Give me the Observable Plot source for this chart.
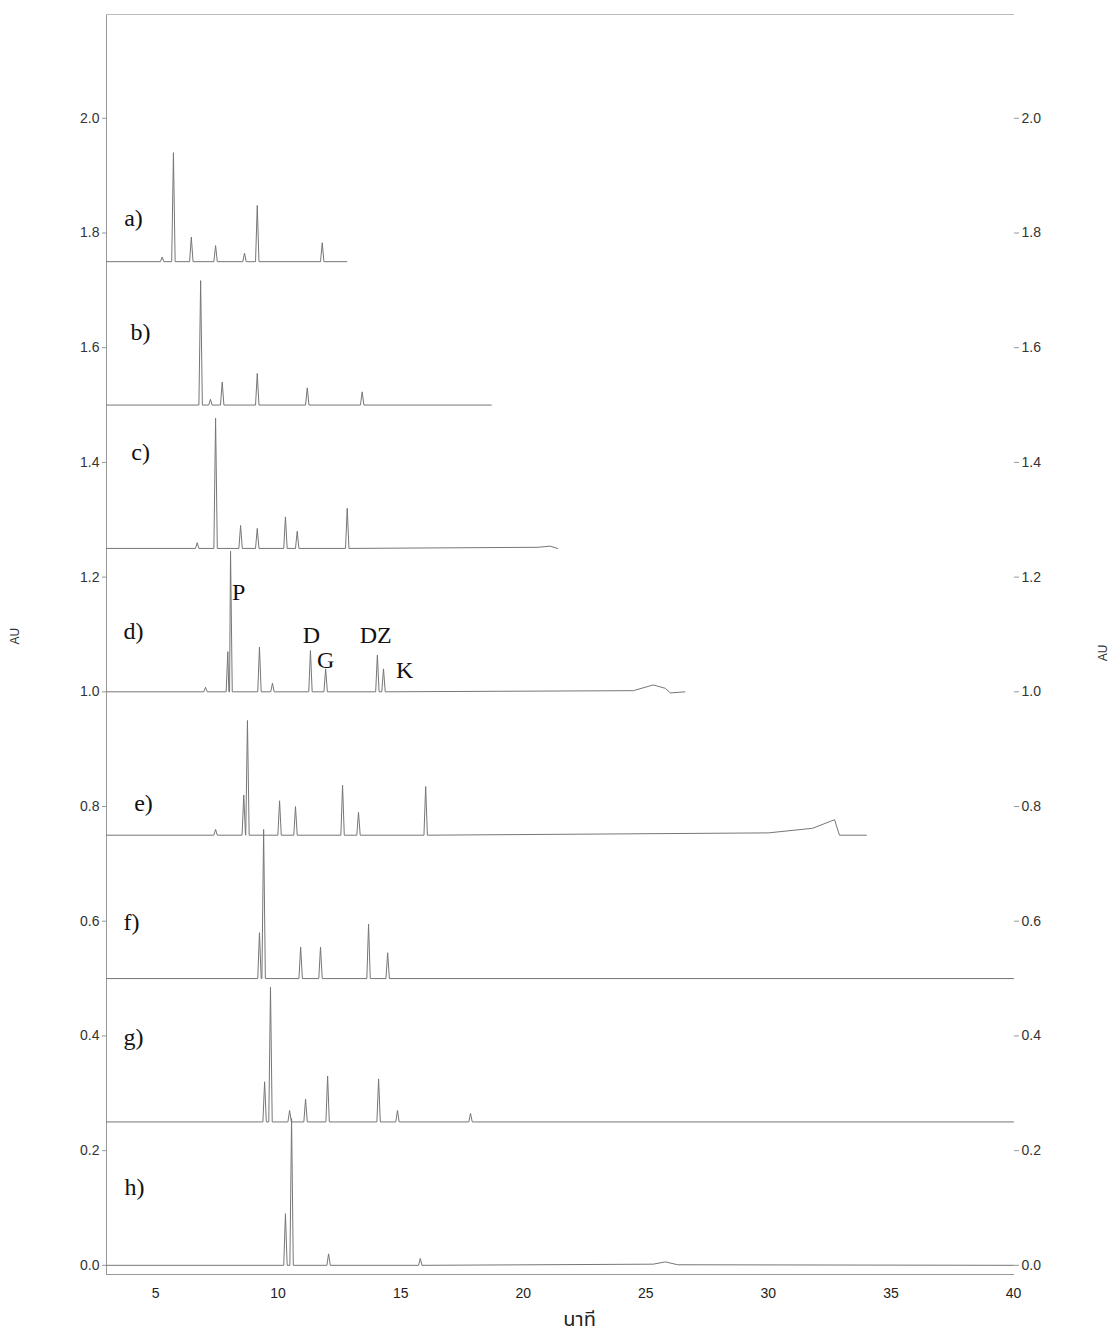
<!DOCTYPE html>
<html><head><meta charset="utf-8">
<script src="https://cdn.jsdelivr.net/npm/d3@7"></script>
<script src="https://cdn.jsdelivr.net/npm/@observablehq/plot@0.6"></script>
<style>body{margin:0;background:#fff;} svg{display:block}</style>
</head><body><div id="chart"></div>
<script>
// ---- data ----
const traceNames = ["a)", "b)", "c)", "d)", "e)", "f)", "g)", "h)"];
const baselines  = [1.75, 1.5, 1.25, 1.0, 0.75, 0.5, 0.25, 0.0];
const traceStart = [3, 3, 3, 3, 3, 3, 3, 3];
const traceEnd   = [12.8, 18.7, 21.4, 26.6, 34.0, 40, 40, 40];

// peaks: [retention time (min), height above baseline (AU)]
const peaksA = [[5.27,0.008],[5.73,0.19],[6.46,0.043],[7.45,0.028],[8.63,0.015],[9.15,0.098],[11.80,0.033]];
const peaksB = [[6.84,0.217],[7.24,0.01],[7.72,0.04],[9.15,0.055],[11.19,0.03],[13.43,0.023]];
const peaksC = [[6.70,0.01],[7.45,0.227],[8.47,0.04],[9.15,0.035],[10.30,0.055],[10.78,0.03],[12.82,0.07]];
const peaksD = [[7.04,0.008],[7.95,0.07],[8.06,0.245],[9.24,0.078],[9.77,0.015],[11.32,0.072],[11.94,0.04],[14.05,0.064],[14.30,0.04]];
const peaksE = [[7.45,0.01],[8.60,0.07],[8.75,0.20],[10.06,0.06],[10.71,0.05],[12.63,0.087],[13.28,0.04],[16.02,0.085]];
const peaksF = [[9.24,0.08],[9.41,0.26],[10.92,0.055],[11.73,0.055],[13.69,0.095],[14.47,0.045]];
const peaksG = [[9.45,0.07],[9.69,0.235],[10.47,0.02],[11.12,0.04],[12.02,0.08],[14.10,0.075],[14.87,0.02],[17.85,0.015]];
const peaksH = [[10.30,0.09],[10.55,0.256],[12.06,0.02],[15.80,0.012]];
const peakSets = [peaksA, peaksB, peaksC, peaksD, peaksE, peaksF, peaksG, peaksH];

// baseline drift points: [time, offset from baseline]
const driftA = [];
const driftB = [];
const driftC = [[20.6,0.002],[21.1,0.004]];
const driftD = [[24.5,0.002],[25.3,0.012],[25.8,0.006],[26.0,-0.002]];
const driftE = [[30.0,0.004],[31.8,0.012],[32.7,0.027],[32.9,0.0]];
const driftF = [];
const driftG = [];
const driftH = [[25.3,0.002],[25.8,0.006],[26.3,0.001]];
const driftSets = [driftA, driftB, driftC, driftD, driftE, driftF, driftG, driftH];

// trace labels (position in minutes / AU)
const traceLabelX = [4.10, 4.39, 4.39, 4.10, 4.51, 4.02, 4.10, 4.14];
const traceLabelY = [1.826, 1.627, 1.418, 1.105, 0.806, 0.598, 0.398, 0.136];

// peak labels on trace d)
const peakLabels  = ["P", "D", "G", "DZ", "K"];
const peakLabelX  = [8.39, 11.36, 11.94, 13.98, 15.16];
const peakLabelY  = [1.173, 1.098, 1.055, 1.098, 1.037];

const yTicks = [0, 0.2, 0.4, 0.6, 0.8, 1.0, 1.2, 1.4, 1.6, 1.8, 2.0];
const xTicks = [5, 10, 15, 20, 25, 30, 35, 40];
const yAxisTitle = "AU";
const xAxisTitle = "นาที";
const xAxisTitlePos = [22.3];

// ---- build line rows ----
const halfWidth = 0.07;
const rows = [];
traceNames.forEach((name, i) => {
  const b = baselines[i];
  const pts = [[traceStart[i], b], [traceEnd[i], b]];
  for (const [rt, h] of peakSets[i]) {
    pts.push([rt - halfWidth, b], [rt, b + h], [rt + halfWidth, b]);
  }
  for (const [t, d] of driftSets[i]) pts.push([t, b + d]);
  pts.sort((p, q) => p[0] - q[0]);
  for (const [t, v] of pts) rows.push({trace: name, t, v});
});

const traceLabelRows = traceNames.map((n, i) => ({text: n, x: traceLabelX[i], y: traceLabelY[i]}));
const peakLabelRows = peakLabels.map((n, i) => ({text: n, x: peakLabelX[i], y: peakLabelY[i]}));

const serif = "'Liberation Serif', 'Times New Roman', serif";

const chart = Plot.plot({
  width: 1115, height: 1343,
  marginTop: 14, marginBottom: 69, marginLeft: 106, marginRight: 102,
  style: {fontFamily: "'Liberation Sans', Arial, sans-serif", background: "#fff", color: "#333"},
  x: {domain: [3, 40]},
  y: {domain: [-0.016, 2.181]},
  marks: [
    Plot.frame({anchor: "left", stroke: "#999"}),
    Plot.frame({anchor: "top", stroke: "#bbb"}),
    Plot.frame({anchor: "bottom", stroke: "#999"}),
    Plot.axisY(yTicks, {anchor: "left", tickSize: 4, tickPadding: 3, tickFormat: ".1f", fontSize: 14, label: null, stroke: "#999", fill: "#333"}),
    Plot.axisY(yTicks, {anchor: "right", tickSize: 5, tickPadding: 3, tickFormat: ".1f", fontSize: 14, label: null, stroke: "#999", fill: "#333"}),
    Plot.axisX(xTicks, {anchor: "bottom", tickSize: 0, tickPadding: 14, fontSize: 14, label: null, fill: "#222"}),
    Plot.line(rows, {x: "t", y: "v", z: "trace", stroke: "#767676", strokeWidth: 1}),
    Plot.text(traceLabelRows, {x: "x", y: "y", text: "text", fontFamily: serif, fontSize: 24, fill: "#111"}),
    Plot.text(peakLabelRows, {x: "x", y: "y", text: "text", fontFamily: serif, fontSize: 24, fill: "#111"}),
    Plot.text([yAxisTitle], {text: d => d, frameAnchor: "left", dx: -91, rotate: -90, fontSize: 12, fill: "#333"}),
    Plot.text([yAxisTitle], {text: d => d, frameAnchor: "right", dx: 90, rotate: -90, fontSize: 12, fill: "#333"}),
    Plot.text(xAxisTitlePos, {x: d => d, text: () => xAxisTitle, frameAnchor: "bottom", dy: 51, fontSize: 20, fill: "#222", fontFamily: "'Noto Sans Thai', 'Noto Sans', sans-serif"})
  ]
});
document.getElementById("chart").appendChild(chart);
</script></body></html>
